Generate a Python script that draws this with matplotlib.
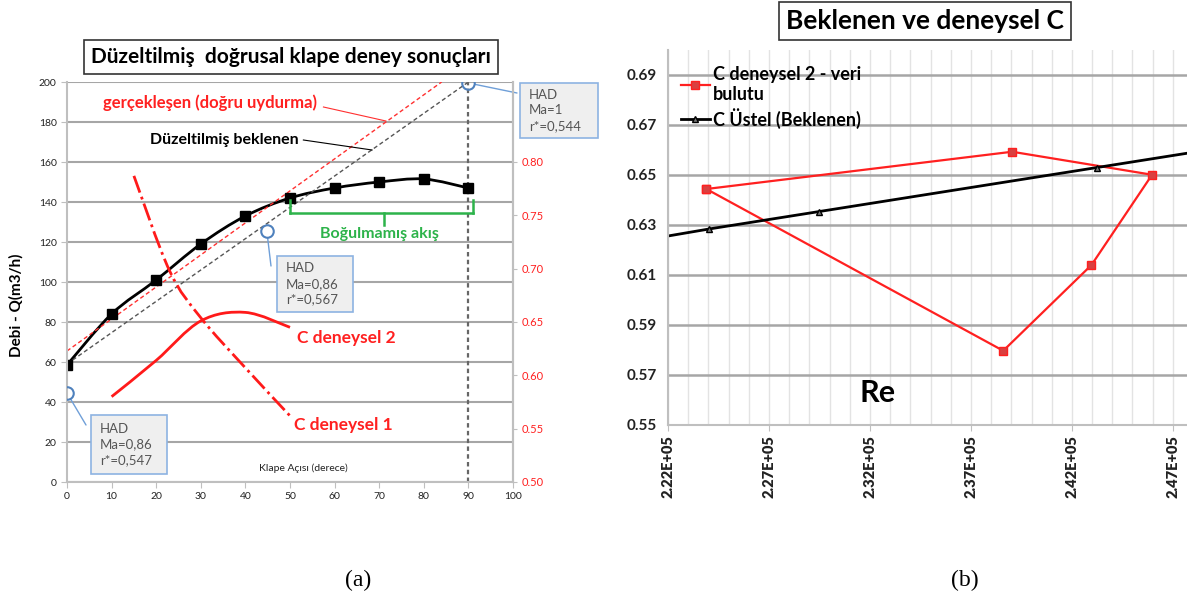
import numpy as np
import matplotlib.pyplot as plt
from matplotlib.path import Path
from matplotlib.patches import PathPatch, Rectangle

plt.rcParams['font.family'] = ['Lato', 'DejaVu Sans']

# --- left chart data (a) ---
angle = [0, 10, 20, 30, 40, 50, 60, 70, 80, 90]
flow = [58.5, 84, 101, 119, 133, 142, 147, 150, 151.5, 147]

fit_x = [0, 84]            # gerçekleşen (doğru uydurma)
fit_y = [65.5, 200]
exp_x = [0, 90]            # Düzeltilmiş beklenen
exp_y = [59, 200]

c2_angle = [10, 20, 30, 40, 50]
c2_val = [0.580, 0.614, 0.651, 0.659, 0.645]
c1_angle = [15, 23, 30, 40, 50]
c1_val = [0.787, 0.698, 0.654, 0.607, 0.562]

had_x = [90, 44.8, 0]
had_y = [199.5, 125.5, 44.5]
had_text = ['HAD\nMa=1\nr*=0,544', 'HAD\nMa=0,86\nr*=0,567', 'HAD\nMa=0,86\nr*=0,547']

# --- right chart data (b) ---
re_c2 = [223900, 239040, 245970, 242970, 238600, 223900]
c_c2 = [0.6444, 0.6593, 0.6501, 0.614, 0.5797, 0.6444]
re_exp = [222000, 224030, 229500, 243250, 247700]
c_exp = [0.6256, 0.6284, 0.6354, 0.653, 0.6587]

W, H = 1187, 607
fig = plt.figure(figsize=(W / 100, H / 100), dpi=100)


def fpx(px, py):
    return px / W, 1 - py / H


def smooth(x, y):
    pts = np.column_stack([x, y]).astype(float)
    verts = [pts[0]]
    codes = [Path.MOVETO]
    n = len(pts)
    for i in range(n - 1):
        p0 = pts[max(i - 1, 0)]
        p1 = pts[i]
        p2 = pts[i + 1]
        p3 = pts[min(i + 2, n - 1)]
        verts += [p1 + (p2 - p0) / 6, p2 - (p3 - p1) / 6, p2]
        codes += [Path.CURVE4] * 3
    return Path(verts, codes)


grid_c = '#a6a6a6'

# ================= (a) =================
ax = fig.add_axes([67 / W, 1 - 482 / H, 446 / W, 400 / H])
ax.set_xlim(0, 100)
ax.set_ylim(0, 200)
ax.set_xticks(range(0, 101, 10))
ax.set_yticks(range(0, 201, 20))
ax.yaxis.grid(True, color=grid_c, lw=1.5)
ax.set_axisbelow(True)
ax.spines['top'].set_visible(False)
for s in ['left', 'bottom', 'right']:
    ax.spines[s].set_color('#bfbfbf')
    ax.spines[s].set_linewidth(1.5)
ax.tick_params(labelsize=7.5, colors='#bfbfbf', labelcolor='#222222', length=4)

ax.plot(fit_x, fit_y, ls=(0, (3, 2)), color='#ff3030', lw=1)
ax.plot(exp_x, exp_y, ls=(0, (3, 2)), color='#555555', lw=1)
ax.plot([90, 90], [0, 200], ls=(0, (2, 1.5)), color='#666666', lw=1.6)
ax.add_patch(PathPatch(smooth(angle, flow), fill=False, color='black', lw=2))
ax.plot(angle, flow, ls='none', marker='s', ms=7, color='black')

# green bracket
g = '#2db34a'
ax.plot([50, 91], [134.7, 134.7], color=g, lw=1.8)
ax.plot([50, 50], [134.7, 141], color=g, lw=1.8)
ax.plot([91, 91], [134.7, 141], color=g, lw=1.8)
ax.plot([71, 71], [134.7, 128.5], color=g, lw=1.8)
ax.text(70, 124, 'Boğulmamış akış', color=g, fontsize=11.5, fontweight='bold', ha='center', va='center')

ax.text(8, 189.5, 'gerçekleşen (doğru uydurma)', color='#ff2020', fontsize=12, fontweight='bold', va='center')
ax.plot([57.5, 71.5], [187.5, 180.5], color='#ff3030', lw=0.8)
ax.text(18.6, 171, 'Düzeltilmiş beklenen', color='black', fontsize=11.5, fontweight='bold', va='center')
ax.plot([53, 68.4], [171, 166], color='black', lw=0.8)
ax.text(51.5, 72, 'C deneysel 2', color='#ff2020', fontsize=12.5, fontweight='bold', va='center')
ax.text(51, 28.5, 'C deneysel 1', color='#ff2020', fontsize=12.5, fontweight='bold', va='center')
ax.text(53, 7, 'Klape Açısı (derece)', color='#222222', fontsize=7.5, ha='center', va='center')

# secondary axis for C
ax2 = ax.twinx()
ax2.set_ylim(0.5, 0.875)
ax2.set_yticks(np.arange(0.5, 0.801, 0.05))
ax2.set_yticklabels(['%.2f' % v for v in np.arange(0.5, 0.801, 0.05)])
ax2.tick_params(labelsize=8, colors='#bfbfbf', labelcolor='#ff2020', length=3)
for s in ['top', 'left', 'bottom']:
    ax2.spines[s].set_visible(False)
ax2.spines['right'].set_color('#bfbfbf')
ax2.spines['right'].set_linewidth(1.5)
ax2.add_patch(PathPatch(smooth(c2_angle, c2_val), fill=False, color='#ff1a1a', lw=2))
ax2.add_patch(PathPatch(smooth(c1_angle, c1_val), fill=False, color='#ff1a1a', lw=2, ls='-.'))

# HAD markers and callouts
ax2.plot(had_x, [0.5 + v * 0.3 / 160 for v in had_y], ls='none', marker='o', ms=9,
         mfc='none', mec='#4f81bd', mew=1.5)
boxes = [(520, 83, 598, 138), (277, 256, 353, 312), (91, 415, 167, 474)]
ends = [(517, 93), (271, 266), (86, 425)]
for (hx, hy), txt, (x0, y0, x1, y1), (ex, ey) in zip(zip(had_x, had_y), had_text, boxes, ends):
    ax.annotate('', xy=(hx, hy), xycoords='data', xytext=(ex, H - ey), textcoords='figure pixels',
                arrowprops=dict(arrowstyle='-', color='#6f9fd8', lw=1, shrinkA=0, shrinkB=5))
    fig.add_artist(Rectangle(fpx(x0, y1), (x1 - x0) / W, (y1 - y0) / H, transform=fig.transFigure,
                             facecolor='#efefef', edgecolor='#8db3e2', lw=1.2, zorder=5))
    fig.text(*fpx(x0 + 9, (y0 + y1) / 2), txt, fontsize=9.5, color='#555555', va='center',
             linespacing=1.35, zorder=6)

fig.text(*fpx(291, 57), 'Düzeltilmiş  doğrusal klape deney sonuçları', fontsize=15, fontweight='bold',
         ha='center', va='center',
         bbox=dict(boxstyle='square,pad=0.35', facecolor='white', edgecolor='#333333', lw=1.2))
fig.text(*fpx(16, 305), 'Debi - Q(m3/h)', rotation=90, fontsize=11, fontweight='bold', ha='center', va='center')

# ================= (b) =================
bx = fig.add_axes([668 / W, 1 - 425 / H, 519 / W, 375 / H])
bx.set_xlim(222000, 247700)
bx.set_ylim(0.55, 0.70)
bx.set_yticks(np.arange(0.55, 0.691, 0.02))
bx.set_yticklabels(['%.2f' % v for v in np.arange(0.55, 0.691, 0.02)], fontweight='bold', fontsize=11)
xt = np.arange(222000, 247001, 5000)
bx.set_xticks(xt)
bx.set_xticklabels(['%.2fE+05' % (v / 1e5) for v in xt], rotation=90, fontweight='heavy', fontsize=10.5)
bx.set_xticks(np.arange(222000, 247701, 1000), minor=True)
bx.yaxis.grid(True, color=grid_c, lw=1.8)
bx.xaxis.grid(True, which='both', color='#e3e3e3', lw=1)
bx.set_axisbelow(True)
for s in ['top', 'right']:
    bx.spines[s].set_visible(False)
for s in ['left', 'bottom']:
    bx.spines[s].set_color('#bfbfbf')
    bx.spines[s].set_linewidth(1.5)
bx.tick_params(axis='both', which='major', colors='#bfbfbf', labelcolor='#222222', length=4)
bx.tick_params(axis='x', which='minor', length=0)
bx.tick_params(axis='y', length=0, pad=8)

bx.plot(re_c2, c_c2, color='#ff2020', lw=1.6, marker='s', ms=6, mfc='#d94040', mec='#ff2020',
        label='C deneysel 2 - veri\nbulutu')
bx.plot(re_exp, c_exp, color='black', lw=2, marker='^', ms=5, mfc='#777777', mec='black',
        markevery=[1, 2, 3], label='C Üstel (Beklenen)')
leg = bx.legend(loc='upper left', bbox_to_anchor=(0.0, 0.99), frameon=False,
                prop={'weight': 'bold', 'size': 13}, handlelength=1.6, handletextpad=0.2,
                borderaxespad=0.3, labelspacing=0.25)
bx.text(232400, 0.563, 'Re', fontsize=22, fontweight='bold', ha='center', va='center')

fig.text(*fpx(925, 21), 'Beklenen ve deneysel C', fontsize=19, fontweight='bold', ha='center', va='center',
         bbox=dict(boxstyle='square,pad=0.25', facecolor='white', edgecolor='#333333', lw=1.2))

fig.text(*fpx(358, 580), '(a)', fontsize=17, family=['Liberation Serif', 'DejaVu Serif'], ha='center', va='center')
fig.text(*fpx(965, 580), '(b)', fontsize=17, family=['Liberation Serif', 'DejaVu Serif'], ha='center', va='center')

fig.savefig('out.png', dpi=100)
